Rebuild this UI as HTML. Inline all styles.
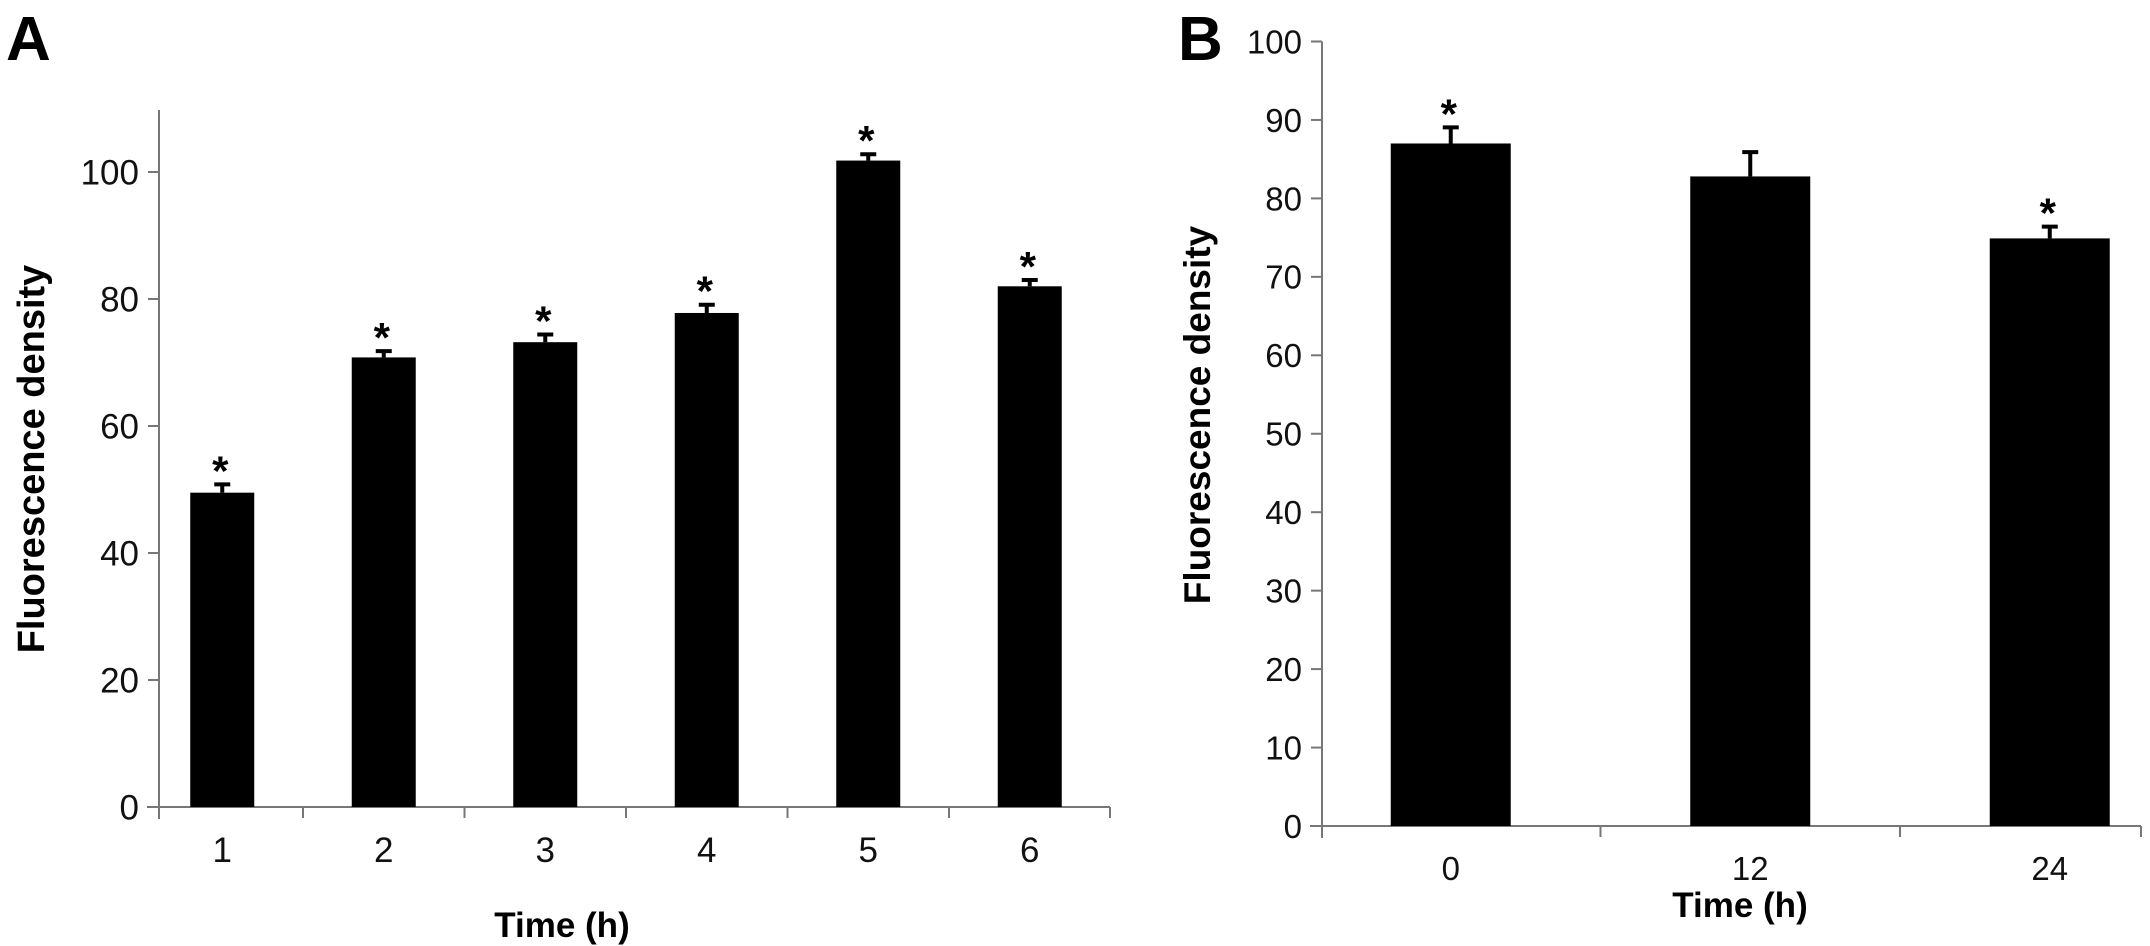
<!DOCTYPE html>
<html><head><meta charset="utf-8">
<style>
html,body{margin:0;padding:0;background:#fff;}
svg{display:block;font-family:"Liberation Sans",Arial,sans-serif;}
</style></head>
<body>
<svg id="fig" width="2150" height="946" viewBox="0 0 2150 946">
<text x="6" y="60" font-size="62" font-weight="bold">A</text>
<text x="1178" y="60" font-size="62" font-weight="bold">B</text>
<g id="chartA"></g>
<g id="chartB"></g>
</svg>
<script>
const catsA = ["1","2","3","4","5","6"];
const valsA = [49.5, 70.8, 73.2, 77.8, 101.8, 82.0];
const errsA = [1.3, 1.0, 1.2, 1.3, 1.0, 1.0];
const sigA = [true, true, true, true, true, true];
const ticksA = [0, 20, 40, 60, 80, 100];

const catsB = ["0","12","24"];
const valsB = [87.0, 82.8, 74.9];
const errsB = [2.05, 3.1, 1.5];
const sigB = [true, false, true];
const ticksB = [0,10,20,30,40,50,60,70,80,90,100];

const NS = "http://www.w3.org/2000/svg";
function mk(parent, tag, attrs){
  const e = document.createElementNS(NS, tag);
  for (const k in attrs) e.setAttribute(k, attrs[k]);
  parent.appendChild(e);
  return e;
}

function drawChart(g, cfg, cats, vals, errs, sig, ticks, pfx){
  const y = v => cfg.y0 - (v - 0) * (cfg.y0 - cfg.yTopVal) / cfg.maxVal;
  const xc = i => cfg.x0 + (i + 0.5) * cfg.cw;
  const ya = mk(g, "line", {x1:cfg.axX, y1:cfg.axTop, x2:cfg.axX, y2:cfg.y0+12, stroke:"#777", "stroke-width":2});
  
  
  const xa = mk(g, "line", {x1:cfg.axX-12, y1:cfg.y0, x2:cfg.axEnd, y2:cfg.y0, stroke:"#777", "stroke-width":2});
  
  
  ticks.forEach(t => {
    const ty = y(t);
    const tl = mk(g, "line", {x1:cfg.axX-11, y1:ty, x2:cfg.axX, y2:ty, stroke:"#777", "stroke-width":2});
    
    
    const tx = mk(g, "text", {x:cfg.axX-20, y:ty+cfg.tfs*0.36, "font-size":cfg.tfs, "text-anchor":"end", fill:"#111"});
    tx.textContent = t;
    
    
  });
  for (let i = 1; i <= cats.length; i++){
    const bx = (i === cats.length) ? cfg.axEnd : cfg.x0 + i * cfg.cw;
    const xt = mk(g, "line", {x1:bx, y1:cfg.y0, x2:bx, y2:cfg.y0+11, stroke:"#777", "stroke-width":2});
    
    
  }
  cats.forEach((c, i) => {
    const cx = xc(i);
    const top = y(vals[i]);
    const bar = mk(g, "rect", {x:cx - cfg.bw/2, y:top, width:cfg.bw, height:cfg.y0 - top, fill:"#000"});
    
    
    const et = y(vals[i] + errs[i]);
    const el = mk(g, "line", {x1:cx, y1:top, x2:cx, y2:et, stroke:"#000", "stroke-width":4});
    
    
    const ec = mk(g, "line", {x1:cx-8, y1:et, x2:cx+8, y2:et, stroke:"#000", "stroke-width":4});
    
    
    if (sig[i]){
      const st = mk(g, "text", {x:cx - 2, y:et + 1, "font-size":42, "font-weight":"bold", "text-anchor":"middle", fill:"#000"});
      st.textContent = "*";
      
      
    }
    const lb = mk(g, "text", {x:cx, y:cfg.xlY, "font-size":cfg.tfs, "text-anchor":"middle", fill:"#111"});
    lb.textContent = c;
    
    
  });
  const xt = mk(g, "text", {x:cfg.xtX, y:cfg.xtY, "font-size":35, "font-weight":"bold", "text-anchor":"middle", fill:"#000", "font-family":"'Liberation Sans Narrow','Liberation Sans',sans-serif"});
  xt.textContent = "Time (h)";
  
  
  const yt = mk(g, "text", {x:0, y:0, "font-size":cfg.yfs, "font-weight":"bold", "text-anchor":"middle", fill:"#000", transform:"translate(" + cfg.ytX + "," + cfg.ytY + ") rotate(-90)"});
  yt.textContent = "Fluorescence density";
  
  
}

drawChart(document.getElementById("chartA"),
  {y0:807, yTopVal:172, maxVal:100, axX:159, axTop:110, axEnd:1110, x0:141.5, cw:161.5, bw:64, tfs:35, xlY:862, xtX:562, xtY:937, ytX:44, ytY:459, yfs:38},
  catsA, valsA, errsA, sigA, ticksA, "a");
drawChart(document.getElementById("chartB"),
  {y0:826, yTopVal:41.5, maxVal:100, axX:1322, axTop:41.5, axEnd:2141, x0:1301, cw:299.5, bw:120, tfs:33, xlY:880, xtX:1740, xtY:917, ytX:1210, ytY:415, yfs:37},
  catsB, valsB, errsB, sigB, ticksB, "b");
</script>
</body></html>
